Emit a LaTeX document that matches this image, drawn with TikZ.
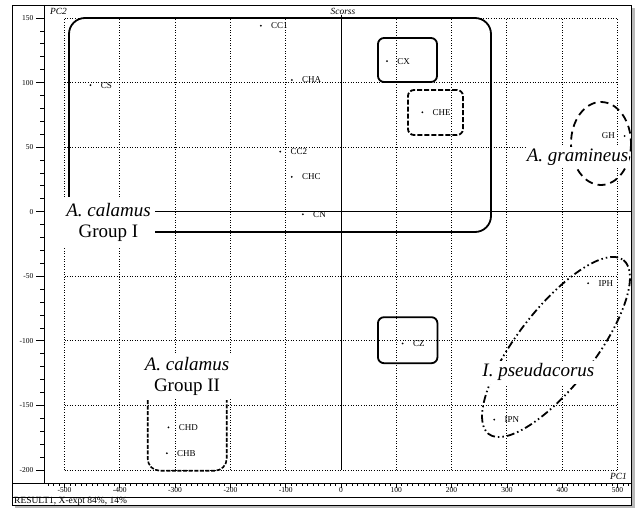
\documentclass[tikz,border=0pt]{standalone}
\usepackage{fontspec}
\setmainfont{Liberation Serif}
\usetikzlibrary{positioning}
\tikzset{
  gridline/.style={line width=0.85pt, dash pattern=on 0.85pt off 1.75pt},
  axisline/.style={line width=0.8pt},
  zeroline/.style={line width=1pt},
  sample/.style={circle, fill=black, inner sep=0pt, minimum size=2pt},
  samplelabel/.style={font=\fontsize{9}{10}\selectfont, inner sep=0.5pt},
  ticklabel/.style={font=\fontsize{7.5}{8}\selectfont, inner sep=1pt},
  grouplabel/.style={font=\fontsize{19}{21.6}\selectfont, align=center, fill=white, inner sep=2pt},
  groupbox/.style={draw=black, line width=1.8pt, rounded corners=6pt, inner sep=0pt},
  plotlabel/.style={font=\fontsize{9.4}{10}\selectfont\itshape, inner sep=1pt}
}

\begin{document}
\begin{tikzpicture}[x=1pt, y=-1pt]
  \useasboundingbox (0,0) rectangle (642,508);
  \fill[white] (0,0) rectangle (642,508);
  % frame with shadow
  \fill[gray!55] (15,8) rectangle (635,508);
  \draw[axisline, fill=white] (12,5) rectangle (631,505);
  \draw[axisline] (44,5) -- (44,483);
  \draw[axisline] (12,483) -- (631,483);
  \draw[axisline] (12,497) -- (631,497);

  \node[plotlabel] (title) at (343,11) {Scorss};
  \node[plotlabel, anchor=west] (pctwo) at (49,11) {PC2};
  \node[plotlabel, anchor=east] (pcone) at (628,476) {PC1};
  \node[anchor=base west, inner sep=0pt, font=\fontsize{9.5}{10}\selectfont] (result) at (14,503.5) {RESULT1, X-expt 84\%, 14\%};

  % score axes: one unit is 0.553px across and 1.2914px up
  \begin{scope}[shift={(341,211.7)}, x=0.553pt, y=1.2914pt]
    \foreach \u in {-500,-400,-300,-200,-100,100,200,300,400,500}
      \draw[gridline] (\u,-200) -- (\u,150);
    \foreach \v in {-200,-150,-100,-50,50,100,150}
      \draw[gridline] (-500,\v) -- (500,\v);
    \draw[zeroline] (0,-200) -- (0,152);
    \draw[zeroline] (-500,0) -- (524,0);

    % ticks
    \foreach \v in {-200,-190,...,150}
      \draw[axisline] (-537.1,\v) -- +(-4pt,0);
    \foreach \v in {-200,-150,...,150} {
      \draw[axisline] (-537.1,\v) -- +(-8pt,0);
      \node[ticklabel, anchor=east, xshift=-9.5pt] at (-537.1,\v) {\v};
    }
    \foreach \u in {-530,-520,...,520}
      \draw[axisline] (\u,-210.1) -- +(0,-2.5pt);
    \foreach \u in {-500,-400,...,500} {
      \draw[axisline] (\u,-210.1) -- +(0,-5pt);
      \node[ticklabel, yshift=-7pt] at (\u,-210.1) {\u};
    }
  \end{scope}

  % groupings
  \node[groupbox, rounded corners=16pt, minimum width=422pt, minimum height=214pt] (groupone) at (280,125) {};
  \node[groupbox, minimum width=59pt, minimum height=44pt] (cxbox) at (407.5,60) {};
  \node[groupbox, dash pattern=on 5pt off 2pt, minimum width=55pt, minimum height=45pt] (chebox) at (435.5,112.5) {};
  \node[groupbox, minimum width=59.5pt, minimum height=46pt] (czbox) at (407.7,340.2) {};
  \draw[line width=1.8pt, dash pattern=on 8pt off 5pt] (601,143.5) ellipse [x radius=30, y radius=41.5];
  \draw[line width=1.8pt, dash pattern=on 8pt off 3pt on 1.5pt off 3pt on 1.5pt off 3pt]
    (556,347) ellipse [x radius=110, y radius=38.5, rotate=52.2];
  \draw[line width=1.6pt, dash pattern=on 4pt off 1.6pt, rounded corners=12pt]
    (147.7,400) -- (147.7,470.7) -- (226.7,470.7) -- (226.7,400);

  \node[grouplabel, minimum width=93pt, minimum height=51pt, inner sep=0pt] (calamusone) at (108.5,222.5) {\textit{A. calamus}\\Group I};
  \node[grouplabel] (calamustwo) at (187,376.5) {\textit{A. calamus}\\Group II};
  \node[grouplabel, inner xsep=1pt] (gramineus) at (577.5,157.6) {\textit{A. gramineus}};
  \node[grouplabel, inner sep=3pt] (pseudacorus) at (538.4,372.3) {\textit{I. pseudacorus}};

  % samples
  \begin{scope}[shift={(341,211.7)}, x=0.553pt, y=1.2914pt]
    \node[sample] (cs) at (-453,98) {};
    \node[samplelabel, right=8.5pt of cs] (cslabel) {CS};
    \node[sample] (ccone) at (-145,144) {};
    \node[samplelabel, right=8.5pt of ccone] (cconelabel) {CC1};
    \node[sample] (cha) at (-89,102) {};
    \node[samplelabel, right=8.5pt of cha] (chalabel) {CHA};
    \node[sample] (cctwo) at (-110,46.5) {};
    \node[samplelabel, right=8.5pt of cctwo] (cctwolabel) {CC2};
    \node[sample] (chc) at (-89,27) {};
    \node[samplelabel, right=8.5pt of chc] (chclabel) {CHC};
    \node[sample] (cn) at (-69,-2) {};
    \node[samplelabel, right=8.5pt of cn] (cnlabel) {CN};
    \node[sample] (cx) at (83,116.6) {};
    \node[samplelabel, right=8.5pt of cx] (cxlabel) {CX};
    \node[sample] (che) at (147,77) {};
    \node[samplelabel, right=8.5pt of che] (chelabel) {CHE};
    \node[sample] (gh) at (513,58.6) {};
    \node[samplelabel, left=8pt of gh] (ghlabel) {GH};
    \node[sample] (iph) at (447,-55.4) {};
    \node[samplelabel, right=8.5pt of iph] (iphlabel) {IPH};
    \node[sample] (cz) at (111.5,-102) {};
    \node[samplelabel, right=8.5pt of cz] (czlabel) {CZ};
    \node[sample] (ipn) at (277,-161) {};
    \node[samplelabel, right=8.5pt of ipn] (ipnlabel) {IPN};
    \node[sample] (chd) at (-312,-167) {};
    \node[samplelabel, right=8.5pt of chd] (chdlabel) {CHD};
    \node[sample] (chb) at (-315,-187) {};
    \node[samplelabel, right=8.5pt of chb] (chblabel) {CHB};
  \end{scope}
\end{tikzpicture}
\end{document}
